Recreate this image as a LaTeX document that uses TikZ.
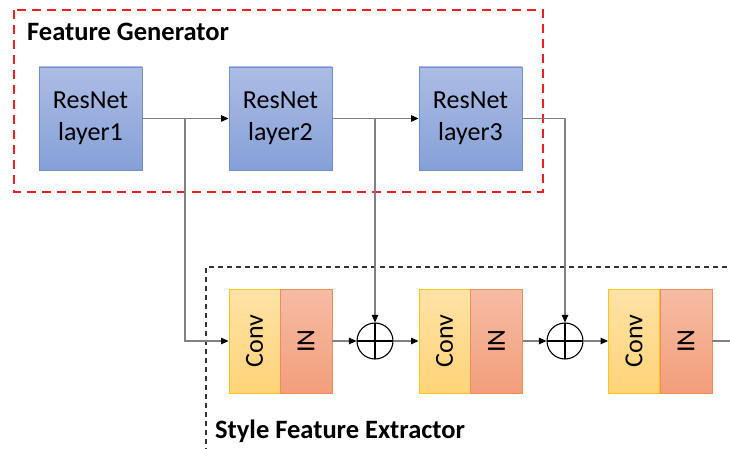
\documentclass[tikz,border=0pt]{standalone}
\usepackage{fontspec}
\setmainfont{Carlito}
\usetikzlibrary{arrows.meta}
\definecolor{resTop}{RGB}{172,188,228}
\definecolor{resBot}{RGB}{134,160,216}
\definecolor{resLine}{RGB}{112,144,208}
\definecolor{convTop}{RGB}{255,226,165}
\definecolor{convBot}{RGB}{255,212,120}
\definecolor{convLine}{RGB}{255,194,30}
\definecolor{inTop}{RGB}{246,188,165}
\definecolor{inBot}{RGB}{242,158,122}
\definecolor{inLine}{RGB}{238,140,92}
\definecolor{wire}{RGB}{128,128,128}
\definecolor{genRed}{RGB}{240,30,30}
\tikzset{
  resblock/.style={draw=resLine, line width=0.9pt, top color=resTop, bottom color=resBot,
    minimum width=103pt, minimum height=103pt, inner sep=0pt, align=center,
    font=\fontsize{26}{32}\selectfont},
  convblock/.style={draw=convLine, line width=0.9pt, top color=convTop, bottom color=convBot,
    minimum width=51pt, minimum height=104pt, inner sep=0pt},
  inblock/.style={draw=inLine, line width=0.9pt, top color=inTop, bottom color=inBot,
    minimum width=52pt, minimum height=104pt, inner sep=0pt},
  vlabel/.style={rotate=90, font=\fontsize{26}{30}\selectfont},
  sumnode/.style={circle, draw=black, line width=1.1pt, minimum size=36pt, inner sep=0pt,
    path picture={\draw[black, line width=1.1pt]
      (path picture bounding box.north) -- (path picture bounding box.south)
      (path picture bounding box.west) -- (path picture bounding box.east);}},
  wireline/.style={draw=wire, line width=1.1pt},
  feed/.style={wireline, -{Triangle[length=7.5pt, width=6.5pt, fill=black, color=black]}},
  title/.style={font=\fontsize{26.5}{32}\selectfont\bfseries, anchor=base west, inner sep=0pt},
}
\begin{document}
\begin{tikzpicture}[x=1pt, y=-1pt]
\useasboundingbox (0,0) rectangle (730,449);

% group frames
\draw[genRed, line width=2.2pt, dash pattern=on 9pt off 6pt] (14,10) rectangle (543,192);
\draw[black!80, line width=1.2pt, dash pattern=on 5pt off 4pt] (745,267) -- (206,267) -- (206,449.5) -- (745,449.5);

\node[title] (gentitle) at (27,41) {Feature Generator};
\node[title] (exttitle) at (215,438) {Style Feature Extractor};

% feature generator
\node[resblock] (r1) at (90.5,118.5) {ResNet\\layer1};
\node[resblock] (r2) at (280.5,118.5) {ResNet\\layer2};
\node[resblock] (r3) at (470.5,118.5) {ResNet\\layer3};

% style feature extractor
\node[convblock] (c1) at (254.5,341) {};
\node[inblock]   (n1) at (306,341) {};
\node[convblock] (c2) at (444.5,341) {};
\node[inblock]   (n2) at (496.5,341) {};
\node[convblock] (c3) at (634,341) {};
\node[inblock]   (n3) at (686,341) {};
\node[vlabel] (c1t) at (c1) {Conv};
\node[vlabel] (n1t) at (n1) {IN};
\node[vlabel] (c2t) at (c2) {Conv};
\node[vlabel] (n2t) at (n2) {IN};
\node[vlabel] (c3t) at (c3) {Conv};
\node[vlabel] (n3t) at (n3) {IN};

\node[sumnode] (s1) at (375,341) {};
\node[sumnode] (s2) at (565,341) {};

% junctions on the main path
\coordinate (j1) at (185,118.5);
\coordinate (j2) at (375,118.5);
\coordinate (j3) at (565,118.5);
\coordinate (out) at (735,341);

% connectors
\draw[feed] (r1.east) -- (r2.west);
\draw[feed] (r2.east) -- (r3.west);
\draw[wireline] (r3.east) -- (j3);
\draw[feed] (j1) |- (c1.west);
\draw[feed] (j2) -- (s1.north);
\draw[feed] (j3) -- (s2.north);
\draw[feed] (n1.east) -- (s1.west);
\draw[feed] (s1.east) -- (c2.west);
\draw[feed] (n2.east) -- (s2.west);
\draw[feed] (s2.east) -- (c3.west);
\draw[wireline] (n3.east) -- (out);
\end{tikzpicture}
\end{document}
